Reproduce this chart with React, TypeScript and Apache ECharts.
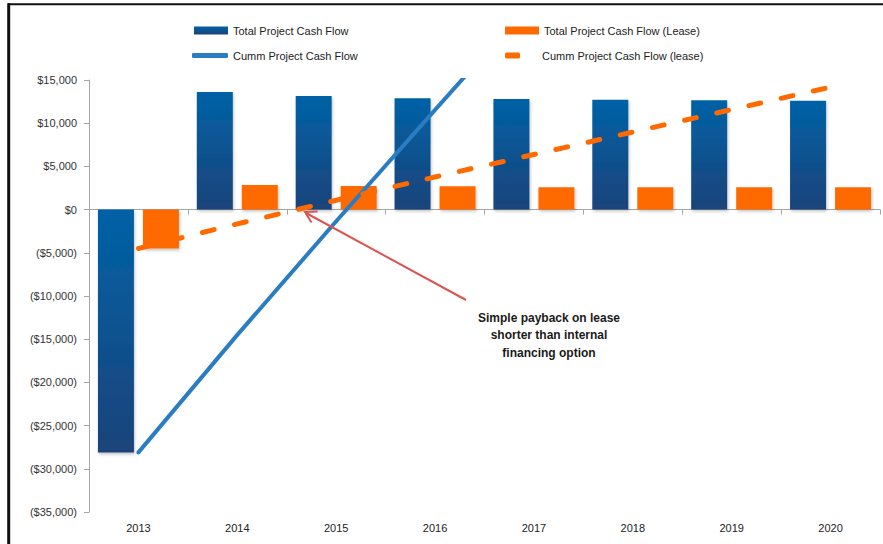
import React, { useEffect, useRef } from 'react';
import * as echarts from 'echarts';

const years = ['2013', '2014', '2015', '2016', '2017', '2018', '2019', '2020'];
const totalCashFlow = [-28100, 13600, 13150, 12900, 12800, 12700, 12650, 12600];
const totalCashFlowLease = [-4500, 2850, 2730, 2700, 2600, 2600, 2600, 2600];
const cummCashFlow = [-28100, -14500, -1350, 11550, 24350, 37050, 49700, 62300];
const cummCashFlowLease = [-4500, -1650, 1080, 3780, 6380, 8980, 11580, 14180];
const seriesNames = [
  'Total Project Cash Flow',
  'Total Project Cash Flow (Lease)',
  'Cumm Project Cash Flow',
  'Cumm Project Cash Flow (lease)',
];
const annotation = 'Simple payback on lease\nshorter than internal\nfinancing option';

const FONT = '"Liberation Sans", Arial, sans-serif';
const BLUE_TOP = '#0062a6';
const BLUE_BOTTOM = '#1b437a';
const ORANGE = '#ff6a00';
const LINE_BLUE = '#2a7dc2';

function money(v: number) {
  const s = Math.abs(v).toLocaleString('en-US');
  return v < 0 ? `($${s})` : `$${s}`;
}

export default function App() {
  const ref = useRef<HTMLDivElement>(null);
  useEffect(() => {
    document.body.style.margin = '0';
    const chart = echarts.init(ref.current!, null, { renderer: 'svg' });
    const blueGrad = new echarts.graphic.LinearGradient(0, 0, 0, 1, [
      { offset: 0, color: BLUE_TOP },
      { offset: 1, color: BLUE_BOTTOM },
    ]);
    const legendText = { fontFamily: FONT, fontSize: 11, color: '#222' };
    const shadow = { shadowColor: 'rgba(0,0,0,0.22)', shadowBlur: 3, shadowOffsetX: 1, shadowOffsetY: 2 };
    chart.setOption({
      animation: false,
      backgroundColor: '#fff',
      textStyle: { fontFamily: FONT },
      grid: { left: 89, right: 3, top: 80, bottom: 32, containLabel: false },
      legend: [
        { data: [seriesNames[0]], left: 194, top: 25, padding: 0, icon: 'rect', itemWidth: 34, itemHeight: 8, itemGap: 0, textStyle: legendText, selectedMode: false },
        { data: [seriesNames[1]], left: 505, top: 25, padding: 0, icon: 'rect', itemWidth: 34, itemHeight: 8, itemGap: 0, textStyle: legendText, selectedMode: false },
        { data: [seriesNames[2]], left: 192, top: 50, padding: 0, icon: 'roundRect', itemWidth: 36, itemHeight: 5, itemGap: 0, textStyle: legendText, selectedMode: false, itemStyle: { color: LINE_BLUE } },
        { data: [seriesNames[3]], left: 505, top: 50, padding: 0, icon: 'roundRect', itemWidth: 15, itemHeight: 6, itemGap: 0, textStyle: { ...legendText, padding: [0, 0, 0, 17] }, selectedMode: false, itemStyle: { color: ORANGE } },
      ],
      xAxis: [
        {
          type: 'category',
          data: years,
          position: 'bottom',
          axisLine: { show: false, onZero: false },
          axisTick: { show: false },
          axisLabel: { fontSize: 11, color: '#222', margin: 10 },
        },
        {
          type: 'category',
          data: years,
          position: 'top',
          axisLine: { show: true, onZero: true, lineStyle: { color: '#a6a6a6', width: 1 } },
          axisTick: { show: true, inside: true, length: 5, lineStyle: { color: '#a6a6a6' } },
          axisLabel: { show: false },
        },
      ],
      yAxis: {
        type: 'value',
        min: -35000,
        max: 15000,
        interval: 5000,
        splitLine: { show: false },
        axisLine: { show: true, lineStyle: { color: '#a6a6a6' } },
        axisTick: { show: true, length: 5, lineStyle: { color: '#a6a6a6' } },
        axisLabel: { fontSize: 11, color: '#333', margin: 12, formatter: (v: number) => money(v) },
      },
      series: [
        {
          name: seriesNames[0],
          type: 'bar',
          data: totalCashFlow,
          barWidth: 36,
          barGap: '25%',
          itemStyle: { color: blueGrad, ...shadow },
          z: 2,
        },
        {
          name: seriesNames[1],
          type: 'bar',
          data: totalCashFlowLease,
          barWidth: 36,
          barGap: '25%',
          itemStyle: { color: ORANGE, ...shadow },
          z: 2,
        },
        {
          name: seriesNames[2],
          type: 'line',
          data: cummCashFlow,
          symbol: 'none',
          clip: true,
          lineStyle: { color: LINE_BLUE, width: 4, cap: 'round' },
          itemStyle: { color: LINE_BLUE },
          z: 4,
        },
        {
          name: seriesNames[3],
          type: 'line',
          data: cummCashFlowLease,
          symbol: 'none',
          lineStyle: { color: ORANGE, width: 5, type: [12, 21], cap: 'round' },
          itemStyle: { color: ORANGE },
          z: 5,
        },
      ],
      graphic: [
        { type: 'line', shape: { x1: 8, y1: 4.3, x2: 883, y2: 4.3 }, style: { stroke: '#111', lineWidth: 2 } },
        { type: 'line', shape: { x1: 8.7, y1: 3.3, x2: 8.7, y2: 544 }, style: { stroke: '#111', lineWidth: 3 } },
        { type: 'line', shape: { x1: 466, y1: 300, x2: 306, y2: 213 }, style: { stroke: '#dc5450', lineWidth: 2 }, z: 10 },
        {
          type: 'polyline',
          shape: { points: [[311.5, 222.5], [305, 212], [317.5, 211.5]] },
          style: { stroke: '#dc5450', lineWidth: 2, fill: null },
          z: 10,
        },
        {
          type: 'text',
          x: 549,
          y: 309,
          style: {
            text: annotation,
            fontFamily: FONT,
            fontSize: 12,
            fontWeight: 'bold',
            fill: '#1a1a1a',
            align: 'center',
            lineHeight: 17.5,
          },
          z: 10,
        },
      ],
    });
    return () => chart.dispose();
  }, []);
  return <div ref={ref} style={{ position: 'fixed', left: 0, top: 0, width: 883, height: 544 }} />;
}
